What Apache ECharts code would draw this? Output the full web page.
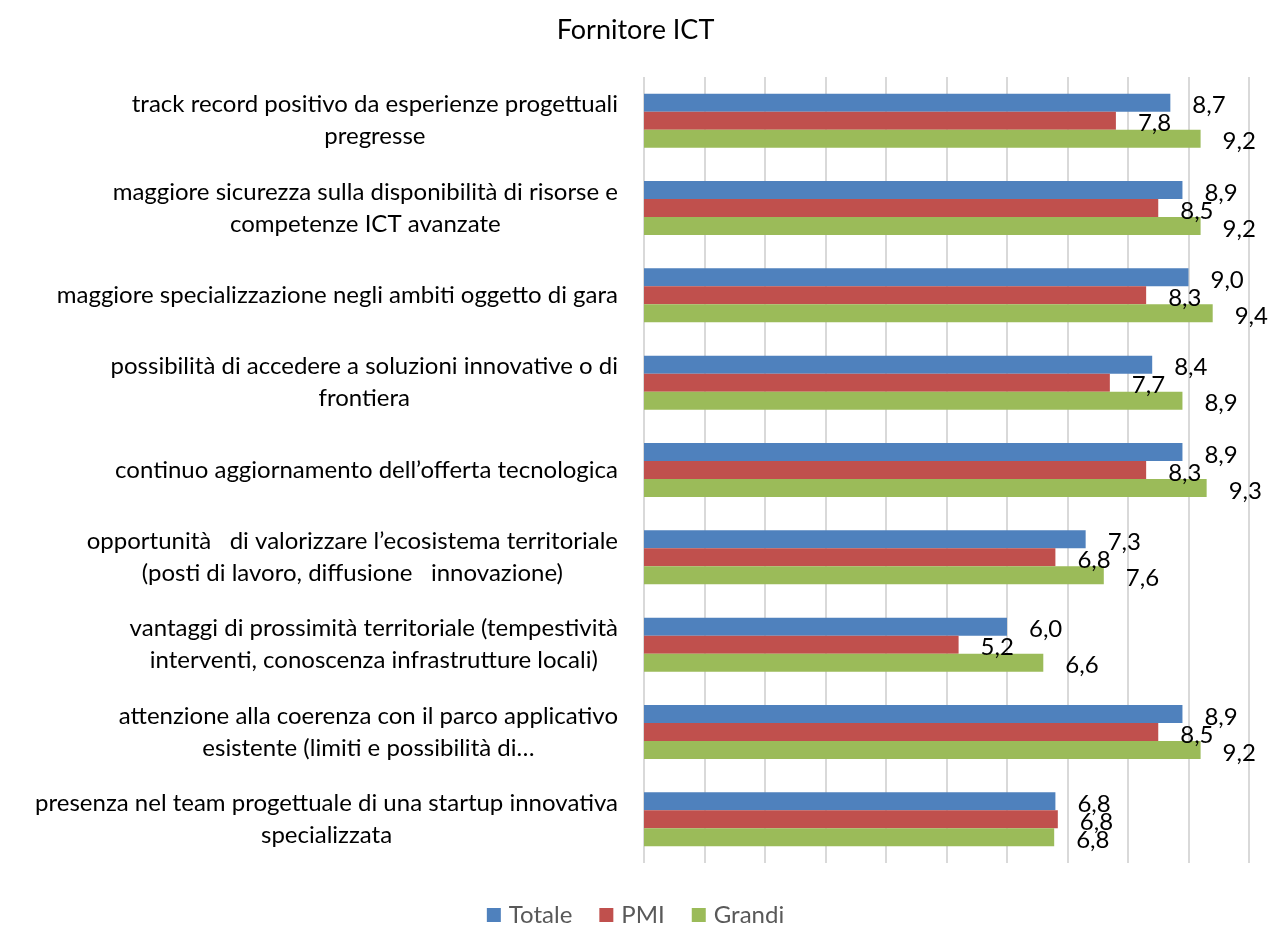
<!DOCTYPE html>
<html>
<head>
<meta charset="utf-8">
<title>Fornitore ICT</title>
<script src="https://cdn.jsdelivr.net/npm/echarts@6/dist/echarts.min.js"></script>
<style>
	html, body { margin: 0; padding: 0; background: #fff; }
	#chart { width: 1271px; height: 925px; }
</style>
</head>
<body>
<div id="chart"></div>
<script>
	// categorie (dall'alto verso il basso)
	var categories = [
		"track record positivo da esperienze progettuali\npregresse",
		"maggiore sicurezza sulla disponibilità di risorse e\ncompetenze ICT avanzate",
		"maggiore specializzazione negli ambiti oggetto di gara",
		"possibilità di accedere a soluzioni innovative o di\nfrontiera",
		"continuo aggiornamento dell’offerta tecnologica",
		"opportunità   di valorizzare l’ecosistema territoriale\n(posti di lavoro, diffusione   innovazione)",
		"vantaggi di prossimità territoriale (tempestività\ninterventi, conoscenza infrastrutture locali)",
		"attenzione alla coerenza con il parco applicativo\nesistente (limiti e possibilità di…",
		"presenza nel team progettuale di una startup innovativa\nspecializzata"
	];

	var seriesNames = ["Totale", "PMI", "Grandi"];
	var totale = [8.7, 8.9, 9.0, 8.4, 8.9, 7.3, 6.0, 8.9, 6.8];
	var pmi = [7.8, 8.5, 8.3, 7.7, 8.3, 6.8, 5.2, 8.5, 6.84];
	var grandi = [9.2, 9.2, 9.4, 8.9, 9.3, 7.6, 6.6, 9.2, 6.78];

	var colors = ["#4f81bd", "#c0504d", "#9bbb59"];

	var font = "Lato";

	function makeSeries(name, data, color) {
		return {
			name: name,
			type: 'bar',
			data: data,
			barWidth: 18,
			barGap: '0%',
			itemStyle: { color: color },
			label: {
				show: true,
				position: 'right',
				distance: 22,
				offset: [0, 3],
				color: '#000',
				fontFamily: font,
				fontSize: 24,
				formatter: function(p) {
					return p.value.toFixed(1).replace('.', ',');
				}
			}
		};
	}

	var myChart = echarts.init(document.getElementById('chart'));

	var option = {
		animation: false,
		color: colors,
		title: {
			text: 'Fornitore ICT',
			left: 'center',
			top: 12,
			textStyle: {
				fontFamily: font,
				fontSize: 27,
				fontWeight: 'normal',
				color: '#000'
			}
		},
		legend: {
			data: seriesNames,
			top: 898,
			left: 'center',
			itemWidth: 14,
			itemHeight: 14,
			itemGap: 27,
			itemStyle: { borderWidth: 0 },
			icon: 'rect',
			textStyle: {
				fontFamily: font,
				fontSize: 24,
				color: '#595959',
				padding: [0, 0, 0, 3]
			}
		},
		grid: {
			left: 644,
			right: 22,
			top: 77,
			bottom: 62,
			containLabel: false
		},
		xAxis: {
			type: 'value',
			min: 0,
			max: 10,
			interval: 1,
			axisLabel: { show: false },
			axisLine: { show: false },
			axisTick: { show: false },
			splitLine: {
				show: true,
				lineStyle: { color: '#d9d9d9', width: 2 }
			}
		},
		yAxis: {
			type: 'category',
			inverse: true,
			data: categories,
			axisLine: { show: false },
			axisTick: { show: false },
			axisLabel: {
				margin: 26,
				align: 'right',
				color: '#000',
				// righe centrate dentro il blocco allineato a destra
				formatter: function(value) {
					return value.split('\n').map(function(line) {
						return '{c|' + line + '}';
					}).join('\n');
				},
				rich: {
					c: {
						align: 'center',
						fontFamily: font,
						fontSize: 24,
						lineHeight: 32,
						color: '#000'
					}
				}
			}
		},
		series: [
			makeSeries(seriesNames[0], totale, colors[0]),
			makeSeries(seriesNames[1], pmi, colors[1]),
			makeSeries(seriesNames[2], grandi, colors[2])
		]
	};

	myChart.setOption(option);
</script>
</body>
</html>
